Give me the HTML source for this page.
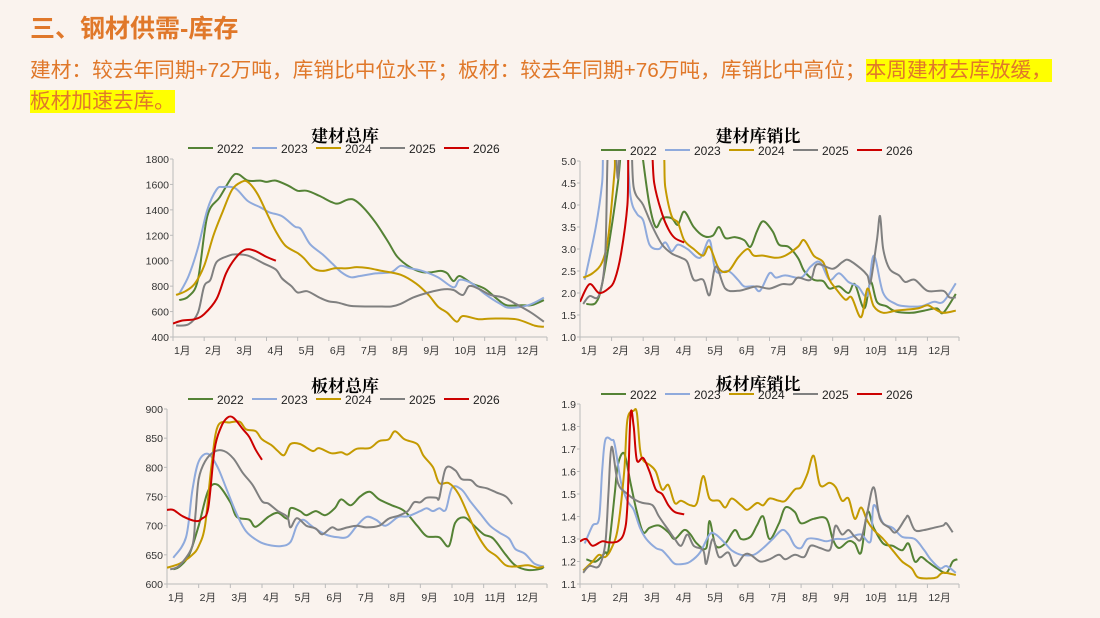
<!DOCTYPE html>
<html><head><meta charset="utf-8"><style>
body{margin:0;width:1100px;height:618px;background:#faf3ee;overflow:hidden;font-family:"Liberation Sans","Noto Sans CJK SC",sans-serif;position:relative}
.h1{position:absolute;left:30px;top:9px;font-size:25px;font-weight:bold;color:#e0782a}
.t{position:absolute;left:30px;top:55px;width:1060px;font-size:20.7px;line-height:31px;color:#e0782a}
.hl{background:#ffff00}
svg{position:absolute;left:0;top:0}
</style></head><body>
<div class="h1">三、钢材供需-库存</div>
<div class="t">建材：较去年同期+72万吨，库销比中位水平；板材：较去年同期+76万吨，库销比中高位；<span class="hl">本周建材去库放缓，<br>板材加速去库。</span></div>
<svg id="s" width="1100" height="618" xmlns="http://www.w3.org/2000/svg"></svg>
<script>
const C={2022:'#548235',2023:'#8faadc',2024:'#c49a00',2025:'#808080',2026:'#cc0000'};
const charts=[
{t:'建材总库',x0:173,x1:547,yT:159,yB:337,min:400,max:1800,step:200,dec:0,tx:345,ty:142,ly:152,
d:{2022:[[0.2,690],[0.5,720],[0.8,850],[1.1,1350],[1.5,1500],[1.9,1660],[2.1,1680],[2.4,1630],[2.8,1630],[3.0,1620],[3.3,1630],[3.7,1590],[4.0,1550],[4.3,1550],[4.7,1510],[5.1,1460],[5.3,1450],[5.6,1480],[5.8,1480],[6.1,1420],[6.5,1300],[6.9,1150],[7.2,1030],[7.6,950],[8.0,910],[8.3,910],[8.6,920],[8.8,900],[9.0,840],[9.2,880],[9.6,820],[10.0,780],[10.4,700],[10.7,650],[11.2,650],[11.5,650],[11.9,690]],
2023:[[0.2,740],[0.5,880],[0.8,1100],[1.1,1400],[1.4,1560],[1.6,1580],[2.0,1570],[2.4,1470],[2.8,1420],[3.1,1380],[3.5,1350],[3.9,1270],[4.1,1250],[4.4,1130],[4.8,1050],[5.1,980],[5.4,910],[5.7,870],[6.0,880],[6.5,900],[7.0,910],[7.3,960],[7.6,940],[8.0,920],[8.5,870],[9.0,790],[9.2,850],[9.6,820],[10.0,740],[10.5,660],[10.8,630],[11.4,650],[11.9,710]],
2024:[[0.1,730],[0.4,760],[0.7,820],[1.0,960],[1.3,1200],[1.6,1390],[1.9,1560],[2.2,1620],[2.4,1620],[2.7,1530],[3.0,1380],[3.3,1230],[3.6,1120],[4.0,1060],[4.2,1020],[4.5,940],[4.8,920],[5.2,940],[5.6,940],[5.9,950],[6.3,940],[6.7,920],[7.3,890],[7.8,820],[8.2,730],[8.5,640],[8.8,590],[9.1,520],[9.3,565],[9.8,540],[10.2,545],[11.0,540],[11.6,490],[11.9,480]],
2025:[[0.1,490],[0.5,500],[0.8,590],[1.0,800],[1.2,850],[1.4,990],[1.8,1040],[2.0,1050],[2.4,1040],[2.9,980],[3.3,930],[3.5,860],[3.8,800],[4.0,750],[4.3,760],[4.7,710],[5.0,680],[5.3,670],[5.7,645],[6.3,640],[6.7,640],[7.0,640],[7.3,660],[7.7,710],[8.2,750],[8.7,775],[9.0,770],[9.3,730],[9.5,800],[9.8,780],[10.2,730],[10.6,710],[11.0,660],[11.5,590],[11.9,520]],
2026:[[0,505],[0.3,530],[0.7,540],[1.0,580],[1.4,700],[1.7,900],[2.0,1020],[2.3,1085],[2.6,1080],[3.0,1030],[3.3,1000]]}},
{t:'建材库销比',x0:580,x1:959,yT:161,yB:337,min:1,max:5,step:0.5,dec:1,tx:758,ty:142,ly:154,
d:{2022:[[0.2,1.75],[0.5,1.78],[0.7,2.2],[1.0,3.5],[1.2,4.5],[1.4,5.6],[1.9,5.6],[2.0,5.0],[2.2,4.0],[2.4,3.5],[2.6,3.7],[2.9,3.7],[3.1,3.55],[3.3,3.85],[3.6,3.5],[3.9,3.3],[4.2,3.3],[4.4,3.5],[4.6,3.25],[4.9,3.27],[5.2,3.2],[5.4,3.05],[5.6,3.4],[5.8,3.63],[6.1,3.4],[6.3,3.1],[6.6,3.05],[6.9,2.8],[7.1,2.5],[7.4,2.3],[7.7,2.27],[7.9,2.1],[8.2,2.15],[8.5,2.0],[8.7,2.2],[9.0,1.65],[9.2,2.25],[9.4,1.8],[9.7,1.7],[10.0,1.58],[10.5,1.55],[10.9,1.6],[11.3,1.65],[11.5,1.55],[11.9,1.98]],
2023:[[0.15,2.3],[0.5,3.5],[0.7,4.5],[0.8,5.6],[1.4,5.6],[1.6,4.2],[1.8,3.8],[2.0,3.65],[2.2,3.1],[2.5,3.0],[2.7,3.15],[2.9,2.95],[3.1,3.1],[3.4,3.0],[3.8,2.8],[4.1,3.2],[4.3,2.5],[4.7,2.5],[5.0,2.3],[5.2,2.15],[5.5,2.15],[5.7,2.05],[6.0,2.45],[6.2,2.35],[6.5,2.4],[7.0,2.35],[7.3,2.6],[7.6,2.7],[7.9,2.3],[8.2,2.45],[8.5,2.25],[8.8,2.15],[9.1,1.95],[9.3,2.85],[9.6,2.0],[10.0,1.75],[10.3,1.7],[10.8,1.7],[11.2,1.8],[11.5,1.8],[11.9,2.22]],
2024:[[0.1,2.35],[0.4,2.45],[0.7,2.7],[0.9,3.3],[1.1,4.8],[1.2,5.6],[2.5,5.6],[2.7,4.4],[2.9,3.75],[3.1,3.6],[3.3,3.2],[3.6,3.0],[3.9,2.85],[4.1,3.05],[4.4,2.55],[4.7,2.5],[5.0,2.8],[5.3,3.0],[5.5,2.85],[5.8,2.85],[6.2,2.8],[6.5,2.85],[6.9,3.05],[7.1,3.2],[7.4,2.85],[7.7,2.7],[7.9,2.3],[8.1,2.1],[8.4,1.85],[8.6,1.9],[8.9,1.45],[9.1,2.1],[9.3,1.7],[9.6,1.55],[10.0,1.6],[10.3,1.62],[10.7,1.65],[11.0,1.72],[11.2,1.65],[11.5,1.55],[11.9,1.6]],
2025:[[0.1,1.75],[0.3,1.93],[0.6,1.95],[0.8,2.9],[0.9,5.6],[1.1,5.6],[1.2,4.6],[1.3,5.6],[1.6,5.6],[1.7,4.4],[2.0,4.0],[2.3,3.5],[2.6,3.1],[2.9,2.9],[3.2,2.8],[3.4,2.7],[3.6,2.3],[3.9,2.3],[4.1,1.95],[4.3,2.6],[4.6,2.1],[5.0,2.05],[5.3,2.1],[5.6,2.15],[6.0,2.1],[6.4,2.2],[6.7,2.2],[6.9,2.35],[7.3,2.3],[7.5,2.65],[8.0,2.55],[8.3,2.7],[8.5,2.75],[8.9,2.55],[9.1,2.4],[9.2,2.25],[9.4,3.2],[9.5,3.75],[9.6,3.0],[9.8,2.55],[10.1,2.4],[10.3,2.25],[10.6,2.3],[11.0,2.05],[11.5,2.05],[11.7,1.9],[11.9,1.9]],
2026:[[0,1.8],[0.3,2.2],[0.6,2.0],[0.9,2.1],[1.1,2.3],[1.3,2.9],[1.5,4.0],[1.6,5.6],[2.2,5.6],[2.35,4.5],[2.6,3.8],[2.8,3.45],[3.0,3.25],[3.3,3.15]]}},
{t:'板材总库',x0:167,x1:547,yT:409,yB:584,min:600,max:900,step:50,dec:0,tx:345,ty:392,ly:403,
d:{2022:[[0.2,625],[0.4,630],[0.7,650],[1.0,700],[1.3,760],[1.6,770],[2.0,740],[2.2,715],[2.6,710],[2.8,698],[3.2,715],[3.5,722],[3.8,712],[3.9,730],[4.2,725],[4.4,718],[4.7,725],[5.0,718],[5.3,730],[5.5,745],[5.8,735],[6.1,750],[6.4,758],[6.7,745],[7.1,735],[7.5,725],[7.9,700],[8.2,682],[8.6,680],[8.9,665],[9.1,705],[9.4,714],[9.7,700],[10.0,685],[10.3,678],[10.7,650],[11.0,632],[11.4,624],[11.8,626],[11.9,630]],
2023:[[0.2,645],[0.6,680],[0.8,760],[1.0,810],[1.3,823],[1.6,800],[1.9,760],[2.2,720],[2.5,690],[2.9,673],[3.2,667],[3.6,665],[3.9,672],[4.1,700],[4.3,710],[4.6,698],[5.0,685],[5.4,680],[5.7,681],[6.0,700],[6.3,715],[6.6,710],[6.9,700],[7.3,715],[7.6,716],[8.0,725],[8.2,730],[8.4,725],[8.6,730],[8.8,727],[9.0,765],[9.3,762],[9.6,740],[9.9,720],[10.2,700],[10.5,688],[10.8,678],[11.0,660],[11.3,652],[11.6,635],[11.9,630]],
2024:[[0,628],[0.4,635],[0.8,650],[1.0,665],[1.2,700],[1.4,800],[1.6,870],[2.0,877],[2.3,878],[2.5,865],[2.8,862],[3.0,848],[3.3,838],[3.5,828],[3.7,821],[3.9,840],[4.2,840],[4.6,828],[4.8,833],[5.2,824],[5.5,826],[5.7,822],[6.0,832],[6.4,833],[6.7,845],[7.0,848],[7.2,862],[7.5,848],[7.9,840],[8.1,820],[8.4,800],[8.6,773],[8.9,773],[9.2,755],[9.5,720],[9.8,685],[10.1,660],[10.4,648],[10.7,632],[11.0,630],[11.4,632],[11.7,628],[11.9,630]],
2025:[[0.1,625],[0.4,632],[0.8,665],[0.9,720],[1.0,780],[1.2,810],[1.5,827],[1.8,828],[2.1,815],[2.4,790],[2.7,770],[3.0,742],[3.2,738],[3.5,725],[3.8,715],[3.9,697],[4.1,713],[4.4,700],[4.7,695],[4.9,685],[5.2,697],[5.4,693],[5.7,697],[6.0,700],[6.3,697],[6.7,700],[7.0,712],[7.3,717],[7.6,725],[7.8,740],[8.0,740],[8.2,748],[8.5,748],[8.6,748],[8.8,798],[9.1,795],[9.3,780],[9.6,778],[9.8,768],[10.1,764],[10.4,757],[10.7,750],[10.9,737]],
2026:[[0,727],[0.2,727],[0.5,716],[0.9,708],[1.1,712],[1.3,730],[1.5,830],[1.7,868],[1.9,885],[2.1,885],[2.4,865],[2.6,852],[2.8,830],[3.0,813]]}},
{t:'板材库销比',x0:580,x1:959,yT:404,yB:584,min:1.1,max:1.9,step:0.1,dec:1,tx:758,ty:390,ly:398,
d:{2022:[[0.2,1.21],[0.5,1.2],[0.8,1.24],[0.9,1.25],[1.1,1.5],[1.2,1.63],[1.4,1.68],[1.6,1.55],[1.8,1.42],[2.0,1.33],[2.2,1.35],[2.5,1.36],[2.8,1.33],[3.0,1.3],[3.3,1.34],[3.5,1.32],[3.7,1.28],[4.0,1.26],[4.1,1.38],[4.3,1.27],[4.6,1.28],[4.9,1.34],[5.1,1.3],[5.4,1.31],[5.6,1.36],[5.8,1.4],[6.0,1.3],[6.3,1.37],[6.5,1.44],[6.8,1.42],[7.0,1.37],[7.4,1.39],[7.8,1.39],[8.0,1.3],[8.2,1.26],[8.5,1.29],[8.7,1.28],[8.9,1.24],[9.1,1.42],[9.3,1.35],[9.6,1.28],[9.9,1.27],[10.2,1.25],[10.4,1.28],[10.6,1.2],[10.8,1.22],[11.0,1.2],[11.3,1.17],[11.6,1.15],[11.8,1.2],[11.95,1.21]],
2023:[[0.15,1.28],[0.4,1.36],[0.6,1.39],[0.7,1.6],[0.8,1.74],[1.0,1.74],[1.1,1.72],[1.3,1.55],[1.5,1.47],[1.7,1.43],[1.9,1.35],[2.1,1.3],[2.4,1.26],[2.6,1.25],[2.8,1.22],[3.0,1.19],[3.3,1.19],[3.5,1.2],[3.8,1.24],[4.1,1.32],[4.3,1.32],[4.6,1.28],[4.8,1.25],[5.1,1.23],[5.5,1.23],[5.8,1.26],[6.1,1.3],[6.4,1.34],[6.6,1.32],[6.8,1.27],[7.0,1.26],[7.2,1.3],[7.5,1.3],[7.8,1.29],[8.1,1.3],[8.4,1.3],[8.6,1.31],[8.9,1.32],[9.2,1.29],[9.3,1.45],[9.6,1.37],[9.9,1.35],[10.2,1.31],[10.6,1.3],[10.9,1.25],[11.1,1.21],[11.4,1.17],[11.6,1.18],[11.9,1.15]],
2024:[[0.1,1.16],[0.4,1.2],[0.6,1.23],[0.8,1.22],[1.0,1.26],[1.2,1.35],[1.4,1.6],[1.5,1.83],[1.7,1.87],[1.8,1.86],[1.9,1.7],[2.0,1.65],[2.2,1.63],[2.4,1.6],[2.6,1.52],[2.8,1.54],[3.0,1.46],[3.2,1.47],[3.5,1.45],[3.7,1.46],[3.9,1.58],[4.1,1.48],[4.4,1.47],[4.6,1.44],[4.8,1.48],[5.1,1.45],[5.3,1.43],[5.6,1.46],[5.8,1.45],[6.0,1.48],[6.3,1.47],[6.5,1.47],[6.8,1.52],[7.0,1.53],[7.2,1.59],[7.4,1.67],[7.6,1.54],[7.9,1.55],[8.1,1.53],[8.3,1.47],[8.5,1.48],[8.7,1.39],[8.9,1.44],[9.1,1.38],[9.3,1.34],[9.6,1.3],[9.9,1.25],[10.2,1.2],[10.5,1.17],[10.7,1.13],[11.1,1.125],[11.3,1.13],[11.5,1.15],[11.9,1.14]],
2025:[[0.1,1.15],[0.3,1.18],[0.6,1.18],[0.8,1.28],[0.9,1.5],[1.0,1.71],[1.2,1.55],[1.5,1.5],[1.8,1.47],[2.0,1.46],[2.3,1.45],[2.5,1.4],[2.8,1.34],[3.0,1.3],[3.2,1.27],[3.4,1.32],[3.6,1.27],[3.9,1.25],[4.0,1.19],[4.2,1.3],[4.4,1.22],[4.7,1.24],[4.9,1.18],[5.2,1.23],[5.4,1.23],[5.7,1.2],[6.0,1.21],[6.3,1.23],[6.5,1.21],[6.8,1.23],[7.1,1.22],[7.3,1.27],[7.6,1.26],[7.9,1.25],[8.0,1.3],[8.1,1.36],[8.3,1.32],[8.5,1.34],[8.7,1.31],[8.9,1.3],[9.1,1.42],[9.3,1.53],[9.5,1.39],[9.8,1.35],[10.0,1.33],[10.3,1.39],[10.4,1.4],[10.6,1.34],[10.9,1.34],[11.2,1.35],[11.5,1.36],[11.6,1.37],[11.8,1.33]],
2026:[[0,1.29],[0.2,1.3],[0.4,1.27],[0.7,1.29],[0.9,1.285],[1.2,1.29],[1.4,1.33],[1.5,1.45],[1.6,1.85],[1.7,1.8],[1.8,1.65],[2.0,1.66],[2.2,1.6],[2.4,1.52],[2.6,1.5],[2.8,1.45],[3.0,1.42],[3.3,1.41]]}}
];
let h='';
charts.forEach((c,i)=>{
 const sx=m=>c.x0+m*(c.x1-c.x0)/12, sy=v=>c.yB-(v-c.min)/(c.max-c.min)*(c.yB-c.yT);
 h+=`<defs><clipPath id="c${i}"><rect x="${c.x0}" y="${c.yT-1}" width="${c.x1-c.x0+2}" height="${c.yB-c.yT+1}"/></clipPath></defs>`;
 h+=`<text x="${c.tx}" y="${c.ty}" font-size="17" font-weight="bold" text-anchor="middle" font-family="Noto Serif CJK SC,serif" fill="#000">${c.t}</text>`;
 const lx=c.tx-157;
 [2022,2023,2024,2025,2026].forEach((y,k)=>{const x=lx+k*64;h+=`<line x1="${x}" y1="${c.ly-4}" x2="${x+25}" y2="${c.ly-4}" stroke="${C[y]}" stroke-width="2"/><text x="${x+29}" y="${c.ly+1}" font-size="12" fill="#222">${y}</text>`;});
 h+=`<line x1="${c.x0}" y1="${c.yT}" x2="${c.x0}" y2="${c.yB}" stroke="#bbb"/><line x1="${c.x0}" y1="${c.yB}" x2="${c.x1}" y2="${c.yB}" stroke="#bbb"/>`;
 for(let v=c.min;v<=c.max+1e-9;v+=c.step){const y=sy(v);h+=`<line x1="${c.x0-3}" y1="${y}" x2="${c.x0}" y2="${y}" stroke="#bbb"/><text x="${c.x0-4}" y="${y+4}" font-size="10.5" text-anchor="end" fill="#333">${v.toFixed(c.dec)}</text>`;}
 for(let m=0;m<=12;m++){const x=sx(m);h+=`<line x1="${x}" y1="${c.yB}" x2="${x}" y2="${c.yB+4}" stroke="#bbb"/>`;if(m<12)h+=`<text x="${x+1}" y="${c.yB+17}" font-size="10.5" fill="#333">${m+1}月</text>`;}
 h+=`<g clip-path="url(#c${i})" fill="none" stroke-width="2" stroke-linejoin="round">`;
 for(const y in c.d){const p=c.d[y].map(a=>[sx(a[0]),sy(a[1])]);let d=`M${p[0][0].toFixed(1)},${p[0][1].toFixed(1)}`;
  for(let j=0;j<p.length-1;j++){const p0=p[j-1]||p[j],p1=p[j],p2=p[j+1],p3=p[j+2]||p2;
   d+=`C${(p1[0]+(p2[0]-p0[0])/6).toFixed(1)},${(p1[1]+(p2[1]-p0[1])/6).toFixed(1)} ${(p2[0]-(p3[0]-p1[0])/6).toFixed(1)},${(p2[1]-(p3[1]-p1[1])/6).toFixed(1)} ${p2[0].toFixed(1)},${p2[1].toFixed(1)}`;}
  h+=`<path d="${d}" stroke="${C[y]}"/>`;}
 h+='</g>';
});
document.getElementById('s').innerHTML=h;
</script>
</body></html>
